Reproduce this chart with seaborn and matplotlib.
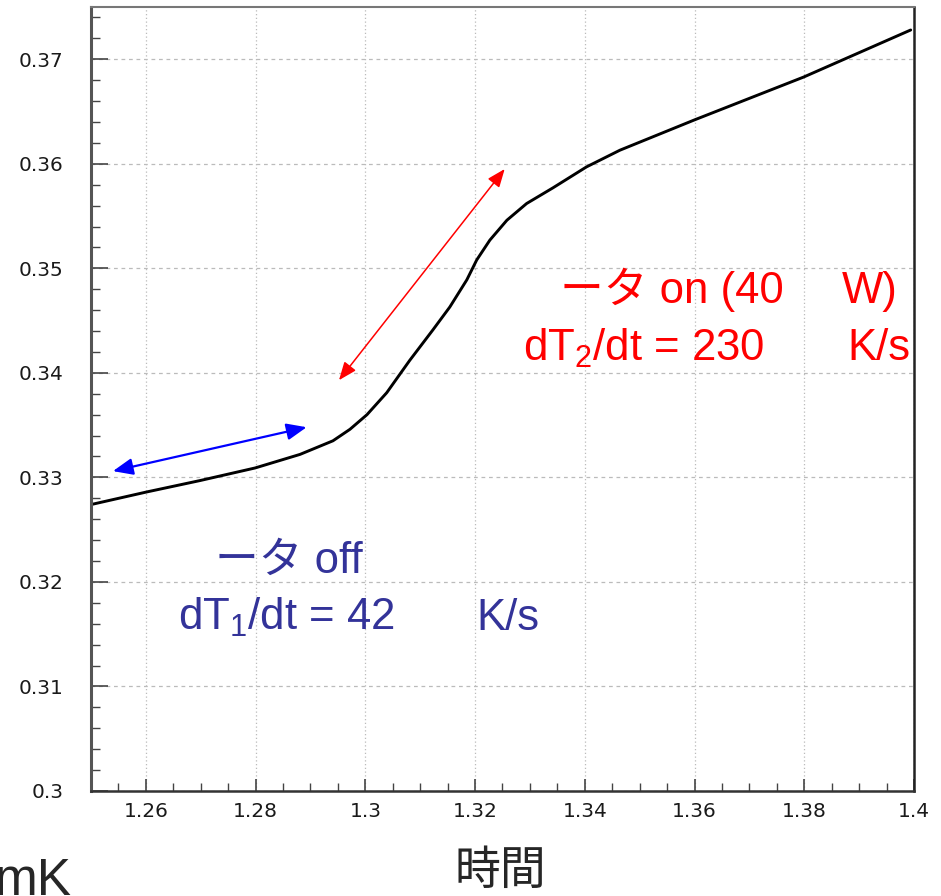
import matplotlib
matplotlib.use("Agg")
import matplotlib.pyplot as plt
import seaborn as sns
from matplotlib.ticker import FixedLocator, MultipleLocator

# curve
time = [1.2500, 1.2601, 1.2699, 1.2799, 1.2881, 1.2941, 1.2972, 1.3003, 1.3039, 1.3081,
        1.3123, 1.3154, 1.3185, 1.3203, 1.3227, 1.3258, 1.3294, 1.3342, 1.3403, 1.3464,
        1.3600, 1.3799, 1.3994]
temp = [0.3274, 0.3286, 0.3297, 0.3309, 0.3322, 0.3335, 0.3346, 0.3360, 0.3381, 0.3412,
        0.3441, 0.3463, 0.3489, 0.3508, 0.3527, 0.3546, 0.3562, 0.3577, 0.3597, 0.3613,
        0.3642, 0.3683, 0.3728]

x_ticks = [1.26, 1.28, 1.30, 1.32, 1.34, 1.36, 1.38, 1.40]
x_labels = ["1.26", "1.28", "1.3", "1.32", "1.34", "1.36", "1.38", "1.4"]
y_ticks = [0.30, 0.31, 0.32, 0.33, 0.34, 0.35, 0.36, 0.37]
y_labels = ["0.3", "0.31", "0.32", "0.33", "0.34", "0.35", "0.36", "0.37"]

# slope arrows (start, end)
off_arrow = [(1.2540, 0.3306), (1.2893, 0.3348)]
on_arrow = [(1.2952, 0.3393), (1.3254, 0.3595)]

sns.set_style("ticks")
plt.rcParams['font.family'] = ['DejaVu Sans', 'Noto Sans CJK JP']
plt.rcParams['mathtext.fontset'] = 'custom'
plt.rcParams['mathtext.rm'] = 'Liberation Sans'
plt.rcParams['mathtext.it'] = 'Liberation Sans'
plt.rcParams['mathtext.default'] = 'rm'

txt_font = ['Liberation Sans', 'Noto Sans CJK JP']

fig = plt.figure(figsize=(9.41, 8.96), dpi=100)
ax = fig.add_axes([0.0967, 0.1172, 0.8746, 0.875])

sns.lineplot(x=time, y=temp, ax=ax, color='black', lw=2.1)

ax.set_xlim(1.25, 1.40)
ax.set_ylim(0.30, 0.375)
ax.xaxis.set_major_locator(FixedLocator(x_ticks))
ax.set_xticklabels(x_labels)
ax.yaxis.set_major_locator(FixedLocator(y_ticks))
ax.set_yticklabels(y_labels)
ax.xaxis.set_minor_locator(MultipleLocator(0.005))
ax.yaxis.set_minor_locator(MultipleLocator(0.002))

ax.tick_params(axis='both', which='both', direction='in', colors='#444444',
               labelcolor='#1a1a1a', labelsize=14.5)
ax.tick_params(axis='x', which='major', length=9, width=1.2, pad=8)
ax.tick_params(axis='x', which='minor', length=5.5, width=1)
ax.tick_params(axis='y', which='major', length=12, width=1.2, pad=20)
ax.tick_params(axis='y', which='minor', length=6.5, width=1)

ax.grid(axis='x', which='major', color='#bbbbbb', lw=0.9, linestyle=(0, (1, 2)))
ax.grid(axis='y', which='major', color='#bbbbbb', lw=0.9, linestyle=(0, (3, 3)))

ax.spines['left'].set_linewidth(2.2)
ax.spines['left'].set_color('#555555')
ax.spines['top'].set_linewidth(1.5)
ax.spines['top'].set_color('#777777')
ax.spines['right'].set_linewidth(1.8)
ax.spines['right'].set_color('#222222')
ax.spines['bottom'].set_linewidth(1.8)
ax.spines['bottom'].set_color('#333333')

# arrows
ax.annotate('', xy=off_arrow[1], xytext=off_arrow[0],
            arrowprops=dict(arrowstyle='<|-|>,head_length=0.55,head_width=0.23',
                            color='#0000ff', lw=1.6, mutation_scale=22,
                            shrinkA=0, shrinkB=0))
ax.annotate('', xy=on_arrow[1], xytext=on_arrow[0],
            arrowprops=dict(arrowstyle='<|-|>,head_length=0.5,head_width=0.2',
                            color='#ff0000', lw=1.1, mutation_scale=22,
                            shrinkA=0, shrinkB=0))

fs = 31.5

# red annotation (heater on)
red = '#ff0000'
ax.text(1.3354, 0.34665, 'ータ on (40', color=red, fontsize=fs, family=txt_font, va='baseline')
ax.text(1.3970, 0.34665, 'W)', color=red, fontsize=fs, family=txt_font, va='baseline', ha='right')
ax.text(1.3287, 0.34120, 'dT$_2$/dt = 230', color=red, fontsize=fs, family=txt_font, va='baseline')
ax.text(1.3994, 0.34120, 'K/s', color=red, fontsize=fs, family=txt_font, va='baseline', ha='right')

# blue annotation (heater off)
blue = '#333399'
ax.text(1.2726, 0.32084, 'ータ off', color=blue, fontsize=fs, family=txt_font, va='baseline')
ax.text(1.2659, 0.31539, 'dT$_1$/dt = 42', color=blue, fontsize=fs, family=txt_font, va='baseline')
ax.text(1.3318, 0.31539, 'K/s', color=blue, fontsize=fs, family=txt_font, va='baseline', ha='right')

# axis captions below the frame
fig.text(0.532, 0.0268, '時間', fontsize=33, family=txt_font, ha='center', va='center')
fig.text(72 / 941, 0.001, 'mK', fontsize=37, family=txt_font, ha='right', va='baseline')

fig.savefig('out.png', dpi=100)
